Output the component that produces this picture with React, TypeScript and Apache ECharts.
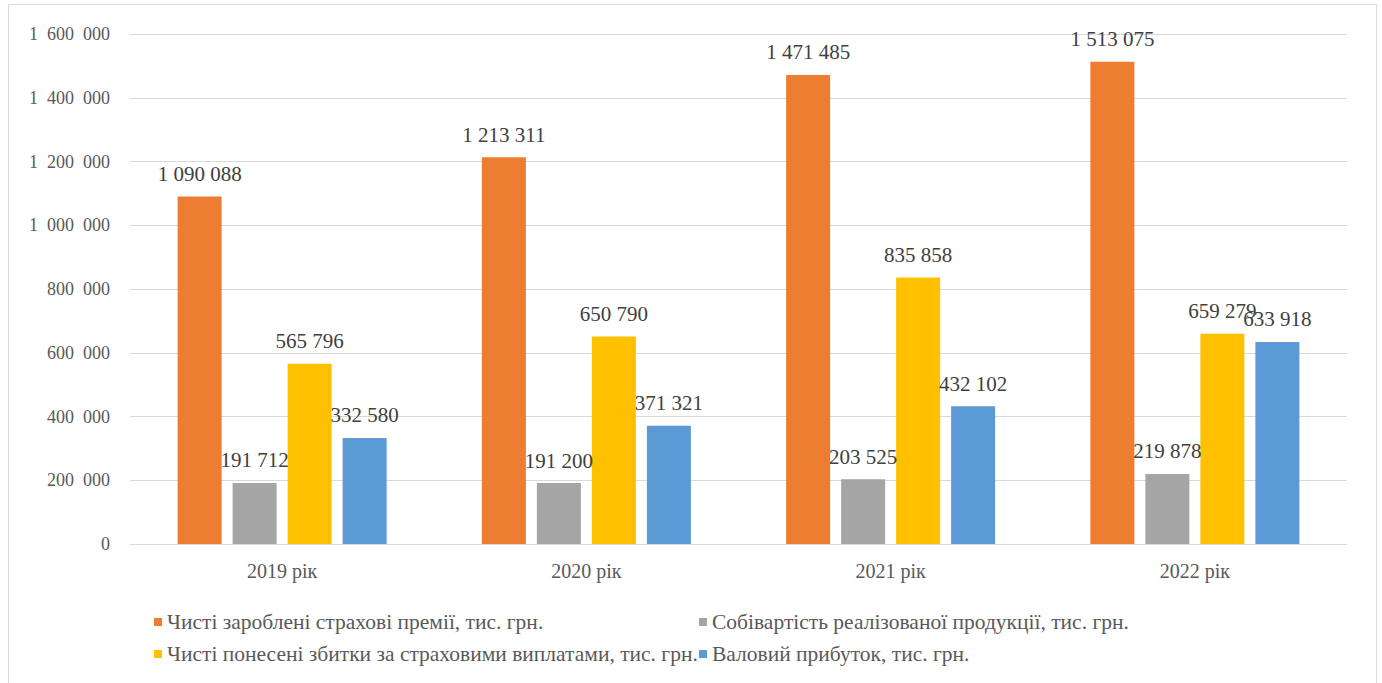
import React, { useEffect, useRef } from "react";
import * as echarts from "echarts";

const years = ["2019 рік", "2020 рік", "2021 рік", "2022 рік"];
const seriesNames = [
  "Чисті зароблені страхові премії, тис. грн.",
  "Собівартість реалізованої продукції, тис. грн.",
  "Чисті понесені збитки за страховими виплатами, тис. грн.",
  "Валовий прибуток, тис. грн.",
];
const netPremiums = [1090088, 1213311, 1471485, 1513075];
const costOfSales = [191712, 191200, 203525, 219878];
const netLosses = [565796, 650790, 835858, 659279];
const grossProfit = [332580, 371321, 432102, 633918];
const colors = ["#ED7D31", "#A5A5A5", "#FFC000", "#5B9BD5"];

const FONT = "Liberation Serif";
// thousands grouped with a given separator
const group = (v: number, sep: string) => String(v).replace(/\B(?=(\d{3})+(?!\d))/g, sep);

export default function App() {
  const ref = useRef<HTMLDivElement>(null);

  useEffect(() => {
    if (!ref.current) return;
    const chart = echarts.init(ref.current, undefined, { renderer: "svg" });
    const values = [netPremiums, costOfSales, netLosses, grossProfit];
    const legendPos = [
      { left: 154, top: 611 },
      { left: 699, top: 611 },
      { left: 154, top: 643 },
      { left: 699, top: 643 },
    ];
    chart.setOption({
      animation: false,
      color: colors,
      textStyle: { fontFamily: FONT },
      grid: { left: 130, right: 35, top: 34, bottom: 139 },
      graphic: [
        {
          type: "rect",
          shape: { x: 8.5, y: 4.5, width: 1368, height: 700 },
          style: { fill: "none", stroke: "#d9d9d9", lineWidth: 1 },
          silent: true,
        },
      ],
      legend: seriesNames.map((name, i) => ({
        data: [name],
        left: legendPos[i].left,
        top: legendPos[i].top,
        padding: 0,
        icon: "rect",
        itemWidth: 8,
        itemHeight: 8,
        selectedMode: false,
        textStyle: { fontFamily: FONT, fontSize: 21.5, color: "#595959", lineHeight: 20 },
      })),
      xAxis: {
        type: "category",
        data: years,
        axisLine: { lineStyle: { color: "#d9d9d9" } },
        axisTick: { show: false },
        axisLabel: { fontFamily: FONT, fontSize: 20, color: "#595959", margin: 17 },
      },
      yAxis: {
        type: "value",
        min: 0,
        max: 1600000,
        interval: 200000,
        axisLine: { show: false },
        axisTick: { show: false },
        splitLine: { lineStyle: { color: "#d9d9d9", width: 1 } },
        axisLabel: {
          fontFamily: FONT,
          fontSize: 18,
          color: "#595959",
          margin: 20,
          formatter: (v: number) => group(v, "\u2007"),
        },
      },
      series: seriesNames.map((name, i) => ({
        name,
        type: "bar",
        data: values[i],
        barWidth: 44,
        barGap: "25%",
        itemStyle: { color: colors[i] },
        label: {
          show: true,
          position: "top",
          distance: 12,
          fontFamily: FONT,
          fontSize: 21,
          color: "#404040",
          formatter: (p: any) => group(p.value, " "),
        },
      })),
    });
    return () => chart.dispose();
  }, []);

  return (
    <div
      ref={ref}
      style={{ position: "absolute", left: 0, top: 0, width: 1382, height: 683, background: "#fff" }}
    />
  );
}
